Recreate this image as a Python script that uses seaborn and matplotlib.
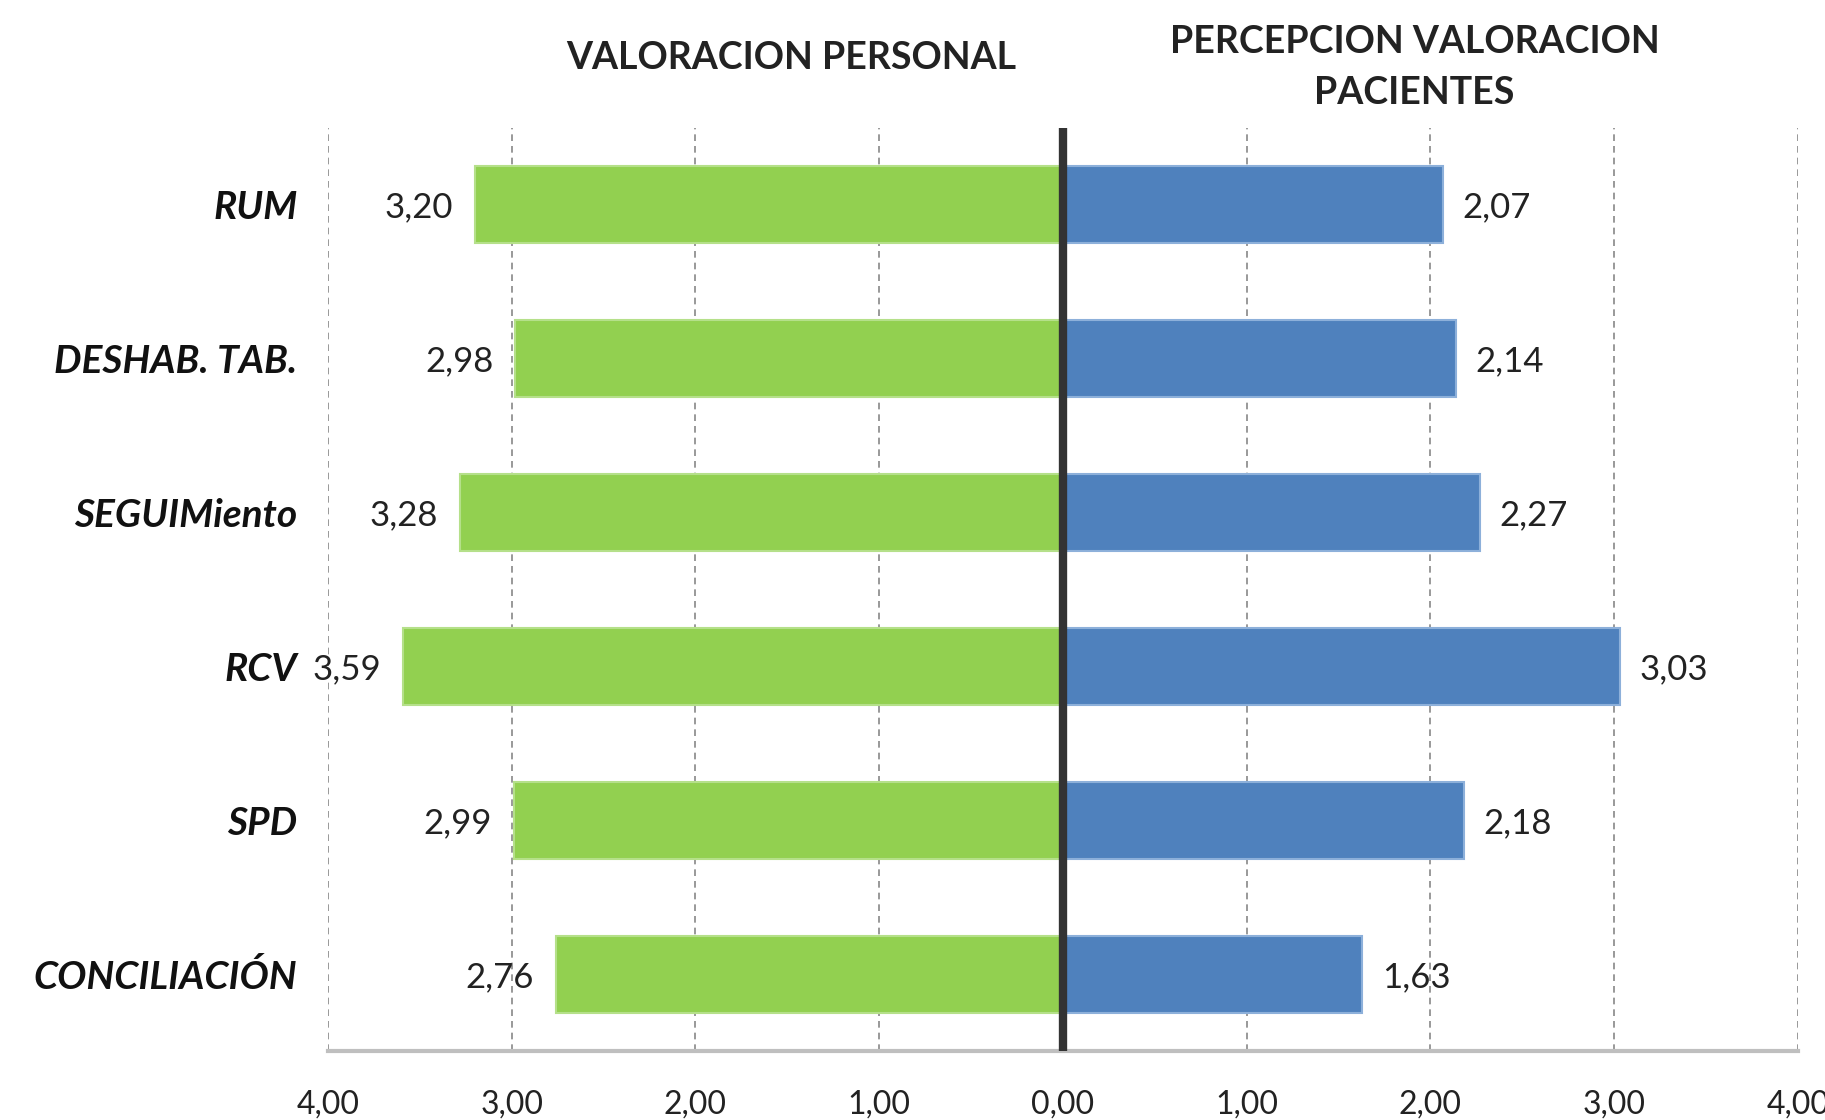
import matplotlib
matplotlib.use("Agg")
import matplotlib.pyplot as plt
import seaborn as sns
import pandas as pd

# Butterfly chart: personal rating vs perceived patient rating

categories = ["RUM", "DESHAB. TAB.", "SEGUIMiento", "RCV", "SPD", "CONCILIACIÓN"]
valoracion_personal = [3.20, 2.98, 3.28, 3.59, 2.99, 2.76]
percepcion_pacientes = [2.07, 2.14, 2.27, 3.03, 2.18, 1.63]
x_ticks = [-4, -3, -2, -1, 0, 1, 2, 3, 4]

sns.set_style("white")
plt.rcParams["font.family"] = ["Lato", "DejaVu Sans"]

df = pd.DataFrame({
    "categoria": categories,
    "personal": [-v for v in valoracion_personal],
    "pacientes": percepcion_pacientes,
})

fig = plt.figure(figsize=(18.25, 11.2), dpi=100)
ax = fig.add_axes([0.1797, 0.0616, 0.8055, 0.8241])

sns.barplot(data=df, y="categoria", x="personal", orient="h", width=0.5,
            color="#92D050", edgecolor="#B5E08A", linewidth=1.5, saturation=1, ax=ax)
sns.barplot(data=df, y="categoria", x="pacientes", orient="h", width=0.5,
            color="#4F81BD", edgecolor="#8DB0DA", linewidth=1.5, saturation=1, ax=ax)

ax.set_xlim(-4, 4)
ax.set_ylim(5.5, -0.5)
ax.set_xticks(x_ticks)
ax.set_xticklabels([f"{abs(t):.2f}".replace(".", ",") for t in x_ticks], fontsize=23, color="#222")
ax.tick_params(axis="x", length=18, width=1, color="#888", pad=10, direction="out")
ax.set_yticks(range(len(categories)))
ax.set_yticklabels(categories, fontsize=28, fontweight="bold", fontstyle="italic", color="#111")
ax.tick_params(axis="y", length=0, pad=22)
ax.set_xlabel("")
ax.set_ylabel("")

ax.grid(axis="x", linestyle=(0, (4, 3)), color="#888", linewidth=1.2)
ax.set_axisbelow(True)
for s in ["top", "right", "left"]:
    ax.spines[s].set_visible(False)
ax.spines["bottom"].set_color("#BFBFBF")
ax.spines["bottom"].set_linewidth(3)

ax.axvline(0, color="#333333", linewidth=6, zorder=5)

for i, (vp, vc) in enumerate(zip(valoracion_personal, percepcion_pacientes)):
    ax.annotate(f"{vp:.2f}".replace(".", ","), (-vp, i), xytext=(-16, -2),
                textcoords="offset points", ha="right", va="center", fontsize=25, color="#222")
    ax.annotate(f"{vc:.2f}".replace(".", ","), (vc, i), xytext=(14, -2),
                textcoords="offset points", ha="left", va="center", fontsize=25, color="#222")

fig.text(0.4337, 0.948, "VALORACION PERSONAL", ha="center", va="center",
         fontsize=27, fontweight="bold", color="#222")
fig.text(0.775, 0.94, "PERCEPCION VALORACION\nPACIENTES", ha="center", va="center",
         fontsize=27, fontweight="bold", color="#222", linespacing=1.6)

fig.savefig("out.png", dpi=100)
